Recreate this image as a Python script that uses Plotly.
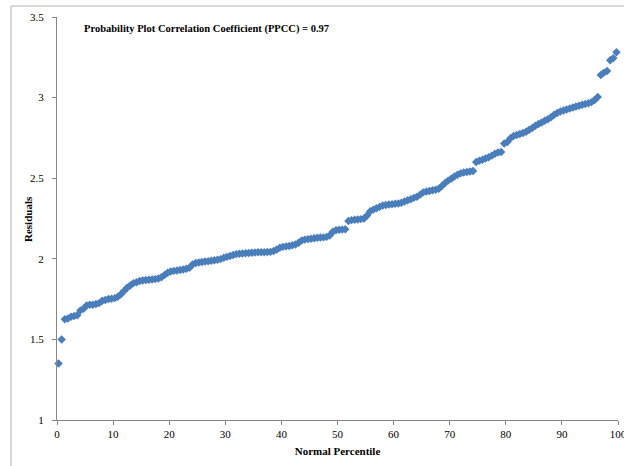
import plotly.graph_objects as go

# Sorted residuals (ascending) for the normal probability plot
residuals = [
    1.350, 1.500, 1.625, 1.630, 1.640, 1.645, 1.650, 1.680, 1.690, 1.710,
    1.715, 1.715, 1.720, 1.725, 1.740, 1.745, 1.750, 1.752, 1.756, 1.765,
    1.780, 1.800, 1.820, 1.835, 1.849, 1.855, 1.862, 1.866, 1.868, 1.870,
    1.872, 1.874, 1.878, 1.886, 1.900, 1.913, 1.921, 1.925, 1.928, 1.931,
    1.933, 1.938, 1.945, 1.965, 1.974, 1.977, 1.980, 1.983, 1.985, 1.988,
    1.991, 1.994, 1.998, 2.006, 2.012, 2.018, 2.024, 2.029, 2.031, 2.033,
    2.035, 2.036, 2.038, 2.039, 2.040, 2.041, 2.041, 2.042, 2.043, 2.048,
    2.058, 2.068, 2.074, 2.077, 2.080, 2.084, 2.089, 2.100, 2.113, 2.119,
    2.122, 2.125, 2.128, 2.130, 2.132, 2.133, 2.136, 2.145, 2.168, 2.177,
    2.180, 2.181, 2.183, 2.235, 2.240, 2.242, 2.244, 2.246, 2.250, 2.268,
    2.295, 2.305, 2.313, 2.322, 2.330, 2.334, 2.337, 2.339, 2.341, 2.343,
    2.348, 2.355, 2.363, 2.370, 2.378, 2.385, 2.398, 2.412, 2.418, 2.421,
    2.425, 2.428, 2.435, 2.452, 2.470, 2.485, 2.497, 2.510, 2.522, 2.530,
    2.535, 2.538, 2.541, 2.545, 2.600, 2.608, 2.615, 2.622, 2.630, 2.640,
    2.652, 2.660, 2.662, 2.715, 2.725, 2.748, 2.762, 2.768, 2.774, 2.780,
    2.788, 2.800, 2.812, 2.825, 2.836, 2.845, 2.856, 2.866, 2.878, 2.893,
    2.905, 2.914, 2.920, 2.926, 2.932, 2.938, 2.945, 2.950, 2.955, 2.960,
    2.965, 2.972, 2.985, 3.004, 3.140, 3.155, 3.165, 3.232, 3.245, 3.281,
]

# Plotting positions: (rank - 0.5) / n, as a percentile
n = len(residuals)
percentiles = [(i + 0.5) / n * 100 for i in range(n)]

x_ticks = [0, 10, 20, 30, 40, 50, 60, 70, 80, 90, 100]
y_ticks = [1, 1.5, 2, 2.5, 3, 3.5]
y_tick_text = ["1", "1.5", "2", "2.5", "3", "3.5"]

ppcc_text = "Probability Plot Correlation Coefficient (PPCC) = 0.97"

FONT = "Liberation Serif, Times New Roman, serif"
AXIS_GREY = "#868686"

fig = go.Figure(
    go.Scatter(
        x=percentiles,
        y=residuals,
        mode="markers",
        marker=dict(symbol="diamond", size=6.5, color="#4A7EBB",
                    line=dict(width=0)),
        cliponaxis=False,
        hoverinfo="x+y",
    )
)

W, H = 624, 466
L, R, T, B = 57, 6, 17, 46
pw, ph = W - L - R, H - T - B

fig.update_layout(
    width=W,
    height=H,
    margin=dict(l=L, r=R, t=T, b=B, pad=0, autoexpand=False),
    paper_bgcolor="white",
    plot_bgcolor="white",
    showlegend=False,
    font=dict(family=FONT, size=11, color="black"),
    xaxis=dict(
        range=[0, 100],
        tickvals=x_ticks,
        showgrid=False,
        zeroline=False,
        showline=True,
        linecolor=AXIS_GREY,
        linewidth=1,
        ticks="outside",
        ticklen=4,
        tickcolor=AXIS_GREY,
        automargin=False,
        ticklabeloverflow="allow",
        tickfont=dict(family=FONT, size=11, color="black"),
        title=dict(text="<b>Normal Percentile</b>",
                   font=dict(family=FONT, size=11, color="black"),
                   standoff=8),
    ),
    yaxis=dict(
        range=[1, 3.5],
        tickvals=y_ticks,
        ticktext=y_tick_text,
        showgrid=False,
        zeroline=False,
        showline=True,
        linecolor=AXIS_GREY,
        linewidth=1,
        ticks="outside",
        ticklen=4,
        tickcolor=AXIS_GREY,
        automargin=False,
        ticklabelstandoff=6,
        tickfont=dict(family=FONT, size=11, color="black"),
    ),
    annotations=[
        dict(
            text="<b>" + ppcc_text + "</b>",
            xref="paper", yref="paper",
            x=(82 - L) / pw, y=(H - B - 29) / ph,
            xanchor="left", yanchor="middle",
            showarrow=False,
            font=dict(family=FONT, size=10.5, color="black"),
        ),
        # y-axis title
        dict(
            text="<b>Residuals</b>",
            xref="paper", yref="paper",
            x=(28 - L) / pw, y=(H - B - 219) / ph,
            xanchor="center", yanchor="middle",
            textangle=-90,
            showarrow=False,
            font=dict(family=FONT, size=11, color="black"),
        ),
    ],
    shapes=[
        # chart-area frame (top and left edges visible)
        dict(type="line", xref="paper", yref="paper",
             x0=(11 - L) / pw, x1=(W + 5 - L) / pw,
             y0=(H - B - 6) / ph, y1=(H - B - 6) / ph,
             line=dict(color="#B3B3B3", width=1)),
        dict(type="line", xref="paper", yref="paper",
             x0=(11 - L) / pw, x1=(11 - L) / pw,
             y0=(H - B - 6) / ph, y1=(H - B - H - 5) / ph,
             line=dict(color="#B3B3B3", width=1)),
    ],
)

fig.write_html("out.html")
